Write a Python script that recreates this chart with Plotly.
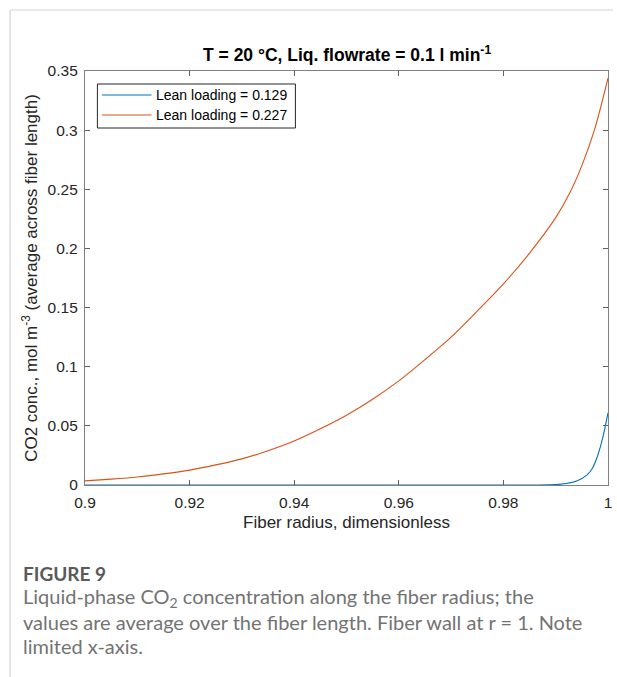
import plotly.graph_objects as go

# Data
radius_orange = [0.900, 0.905, 0.910, 0.915, 0.920, 0.925, 0.930, 0.935, 0.940, 0.945, 0.950,
                 0.955, 0.960, 0.965, 0.970, 0.975, 0.980, 0.985, 0.990, 0.9927, 0.995,
                 0.9974, 1.000]
conc_orange = [0.0035, 0.0050, 0.0068, 0.0094, 0.0126, 0.0170, 0.0221, 0.0290, 0.0372,
               0.0475, 0.0590, 0.0725, 0.0880, 0.1060, 0.1250, 0.1470, 0.1700, 0.1960,
               0.2260, 0.2470, 0.2700, 0.3000, 0.3440]

radius_blue = [0.900, 0.920, 0.940, 0.960, 0.980, 0.986, 0.990, 0.992, 0.994, 0.996,
               0.997, 0.998, 0.999, 1.000]
conc_blue = [0.0, 0.0, 0.0, 0.0, 0.0, 0.0, 0.0003, 0.0012, 0.0033, 0.0085,
             0.0140, 0.0245, 0.0400, 0.0610]

series_names = ["Lean loading = 0.129", "Lean loading = 0.227"]
series_colors = ["#0072BD", "#D95319"]
x_ticks = [0.9, 0.92, 0.94, 0.96, 0.98, 1.0]
x_ticklabels = ["0.9", "0.92", "0.94", "0.96", "0.98", "1"]
y_ticks = [0, 0.05, 0.1, 0.15, 0.2, 0.25, 0.3, 0.35]
y_ticklabels = ["0", "0.05", "0.1", "0.15", "0.2", "0.25", "0.3", "0.35"]

fig = go.Figure()
fig.add_trace(go.Scatter(x=radius_blue, y=conc_blue, mode="lines", name=series_names[0],
                         line=dict(color=series_colors[0], width=1.1, shape="spline", smoothing=0.8),
                         cliponaxis=False, showlegend=False))
fig.add_trace(go.Scatter(x=radius_orange, y=conc_orange, mode="lines", name=series_names[1],
                         line=dict(color=series_colors[1], width=1.1, shape="spline", smoothing=0.8),
                         cliponaxis=False, showlegend=False))

FONT = "Liberation Sans, Arial"
axis_common = dict(showgrid=False, zeroline=False, showline=True, linecolor="#808080",
                   linewidth=1.3, mirror="ticks", ticks="inside", ticklen=5, tickcolor="#606060",
                   tickfont=dict(family=FONT, size=15.5, color="#262626"))

fig.update_xaxes(range=[0.9, 1.0], tickvals=x_ticks, ticktext=x_ticklabels, ticklabelstandoff=3,
                 title=dict(text="Fiber radius, dimensionless", standoff=6,
                            font=dict(family=FONT, size=17, color="#262626")),
                 **axis_common)
fig.update_yaxes(range=[0, 0.35], tickvals=y_ticks, ticktext=y_ticklabels, ticklabelstandoff=3,
                 title=dict(text="CO2 conc., mol m<sup>-3</sup> (average across fiber length)", standoff=5,
                            font=dict(family=FONT, size=17, color="#262626")),
                 **axis_common)

L, R, T, B = 85, 5, 71, 192
W, H = 617, 677
pw, ph = W - L - R, H - T - B

def px(x):
    return (x - L) / pw

def py(y):
    return (H - B - y) / ph

shapes = [
    dict(type="line", xref="paper", yref="paper", x0=px(9.5), x1=px(9.5), y0=py(10), y1=py(677),
         line=dict(color="#d4d4d4", width=1.2)),
    dict(type="line", xref="paper", yref="paper", x0=px(9.5), x1=px(617), y0=py(10), y1=py(10),
         line=dict(color="#d4d4d4", width=1.2)),
    # legend box
    dict(type="rect", xref="paper", yref="paper", x0=px(97.5), x1=px(297), y0=py(84), y1=py(128),
         line=dict(color="#262626", width=1), fillcolor="white"),
]

annotations = [
    dict(text="<b>T = 20 °C, Liq. flowrate = 0.1 l min<sup>-1</sup></b>", xref="paper", yref="paper",
         x=0.5, y=py(54), xanchor="center", yanchor="middle", showarrow=False,
         font=dict(family=FONT, size=17.5, color="#000000")),
]

legend_rows = [95, 115]
for name, color, yy in zip(series_names, series_colors, legend_rows):
    shapes.append(dict(type="line", xref="paper", yref="paper", x0=px(102), x1=px(152),
                       y0=py(yy), y1=py(yy), line=dict(color=color, width=1.1)))
    annotations.append(dict(text=name, xref="paper", yref="paper", x=px(155), y=py(yy),
                            xanchor="left", yanchor="middle", showarrow=False,
                            font=dict(family=FONT, size=14, color="#000000")))

cap_font = dict(family="Lato, Open Sans", size=20, color="#737373")
annotations += [
    dict(text="<b>FIGURE 9</b>", xref="paper", yref="paper", x=px(21), y=py(573),
         xanchor="left", yanchor="middle", showarrow=False,
         font=dict(family="Lato, Open Sans", size=19, color="#5a5a5a")),
    dict(text="Liquid-phase CO<sub>2</sub> concentration along the fiber radius; the", xref="paper", yref="paper",
         x=px(21), y=py(597), xanchor="left", yanchor="middle", showarrow=False, font=cap_font),
    dict(text="values are average over the fiber length. Fiber wall at r = 1. Note", xref="paper", yref="paper",
         x=px(21), y=py(622), xanchor="left", yanchor="middle", showarrow=False, font=cap_font),
    dict(text="limited x-axis.", xref="paper", yref="paper",
         x=px(21), y=py(646), xanchor="left", yanchor="middle", showarrow=False, font=cap_font),
]

fig.update_layout(
    width=W, height=H, margin=dict(l=L, r=R, t=T, b=B),
    paper_bgcolor="white", plot_bgcolor="white",
    showlegend=False,
    shapes=shapes, annotations=annotations,
)

fig.write_html("out.html", config={"displayModeBar": False},
               post_script="document.body.style.margin='0';document.body.style.overflow='hidden';")
